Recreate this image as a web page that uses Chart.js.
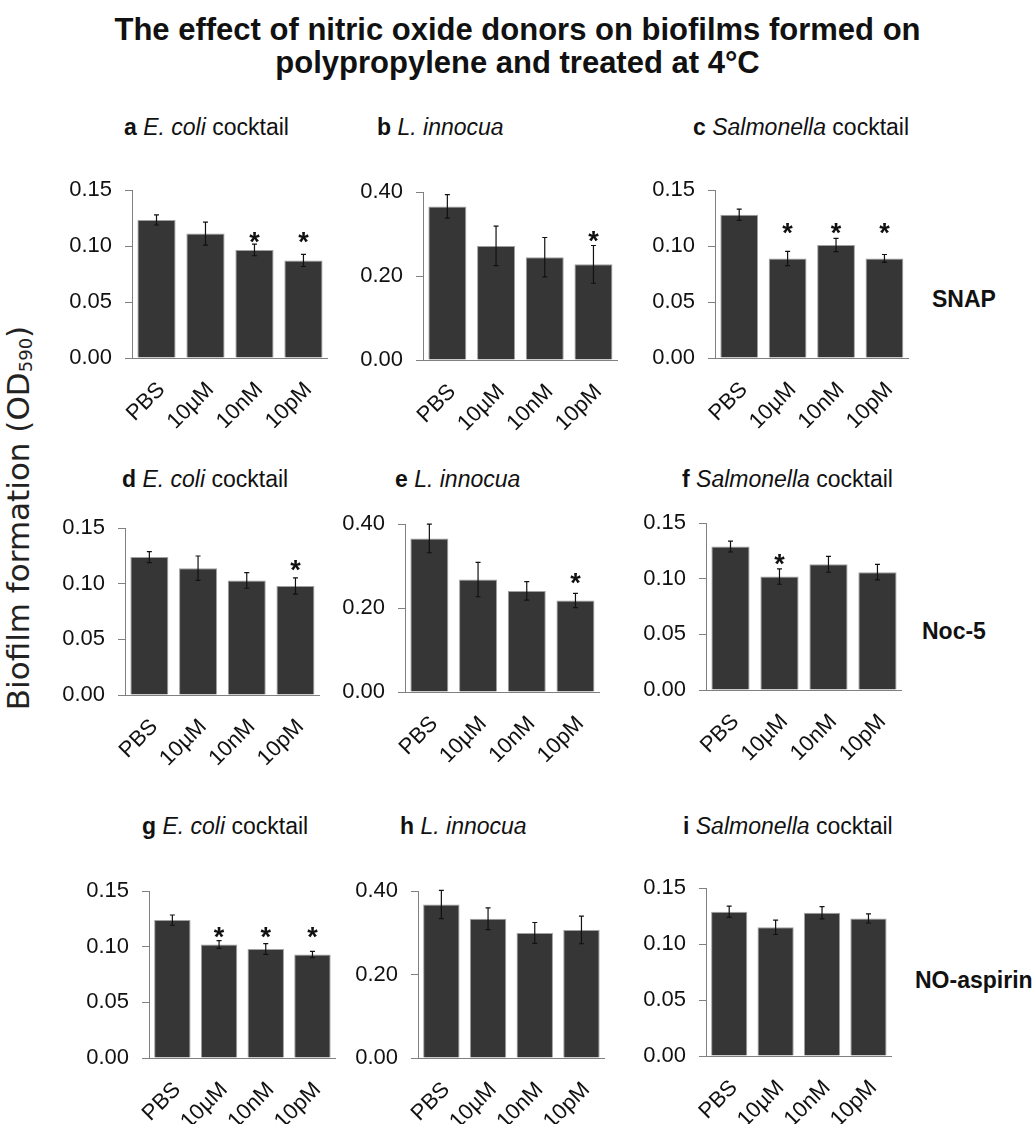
<!DOCTYPE html>
<html>
<head>
<meta charset="utf-8">
<script src="https://cdn.jsdelivr.net/npm/chart.js@4/dist/chart.umd.min.js"></script>
<style>
  body { margin: 0; background: #fff; font-family: 'Liberation Sans', Arial, sans-serif; color: #111; }
  #page { position: relative; width: 1035px; height: 1124px; overflow: hidden; }
  .title { position: absolute; left: 0; width: 1035px; top: 13px; text-align: center; font-weight: bold; font-size: 31px; line-height: 33px; }
  .ptitle { position: absolute; font-size: 23px; line-height: 23px; white-space: nowrap; }
  .side { position: absolute; font-size: 23px; line-height: 24px; font-weight: bold; white-space: nowrap; }
  .ylab { position: absolute; left: 22px; top: 518px; transform: translate(-50%, -50%) rotate(-90deg); font-family: 'DejaVu Sans', sans-serif; font-size: 31px; line-height: 34px; white-space: nowrap; color: #222; }
  .ylab sub { font-size: 18px; vertical-align: -3px; }
  canvas { position: absolute; }
</style>
</head>
<body>
<div id="page">
  <div class="title">The effect of nitric oxide donors on biofilms formed on<br>polypropylene and treated at 4°C</div>
  <div class="ylab">Biofilm formation (OD<sub>590</sub>)</div>
  <div class="side" style="left:932px; top:287px">SNAP</div>
  <div class="side" style="left:922px; top:619px">Noc-5</div>
  <div class="side" style="left:915px; top:968px">NO-aspirin</div>
</div>
<script>
/**
 * Biofilm formation on polypropylene at 4°C, three NO donors x three organisms.
 */
const categories = ['PBS', '10µM', '10nM', '10pM']

// SNAP
const snapEcoli = [0.1234, 0.1112, 0.0966, 0.0872]
const snapEcoliErr = [0.0045, 0.0103, 0.0052, 0.0054]
const snapEcoliSig = [false, false, true, true]
const snapListeria = [0.366, 0.272, 0.245, 0.228]
const snapListeriaErr = [0.028, 0.047, 0.047, 0.045]
const snapListeriaSig = [false, false, false, true]
const snapSalmonella = [0.128, 0.089, 0.101, 0.089]
const snapSalmonellaErr = [0.005, 0.0064, 0.0059, 0.0035]
const snapSalmonellaSig = [false, true, true, true]

// Noc-5
const nocEcoli = [0.124, 0.114, 0.103, 0.098]
const nocEcoliErr = [0.0049, 0.011, 0.007, 0.0073]
const nocEcoliSig = [false, false, false, true]
const nocListeria = [0.366, 0.268, 0.241, 0.218]
const nocListeriaErr = [0.034, 0.041, 0.022, 0.017]
const nocListeriaSig = [false, false, false, true]
const nocSalmonella = [0.129, 0.102, 0.113, 0.106]
const nocSalmonellaErr = [0.0049, 0.0069, 0.0071, 0.0069]
const nocSalmonellaSig = [false, true, false, false]

// NO-aspirin
const aspEcoli = [0.124, 0.102, 0.098, 0.093]
const aspEcoliErr = [0.0046, 0.0035, 0.0049, 0.0028]
const aspEcoliSig = [false, true, true, true]
const aspListeria = [0.368, 0.334, 0.300, 0.307]
const aspListeriaErr = [0.034, 0.026, 0.025, 0.033]
const aspListeriaSig = [false, false, false, false]
const aspSalmonella = [0.129, 0.115, 0.128, 0.123]
const aspSalmonellaErr = [0.005, 0.0064, 0.0055, 0.0041]
const aspSalmonellaSig = [false, false, false, false]

// y-axis ranges and the height the asterisks sit at, per panel
const smallAxisMax = 0.15
const smallAxisStep = 0.05
const largeAxisMax = 0.40
const largeAxisStep = 0.20
const starLevels = [0.110, 0.300, 0.118, 0.119, 0.277, 0.120, 0.115, 0, 0]

const panels = [
  { letter: 'a', org: 'E. coli', rest: ' cocktail', values: snapEcoli, err: snapEcoliErr, sig: snapEcoliSig, max: smallAxisMax, step: smallAxisStep },
  { letter: 'b', org: 'L. innocua', rest: '', values: snapListeria, err: snapListeriaErr, sig: snapListeriaSig, max: largeAxisMax, step: largeAxisStep },
  { letter: 'c', org: 'Salmonella', rest: ' cocktail', values: snapSalmonella, err: snapSalmonellaErr, sig: snapSalmonellaSig, max: smallAxisMax, step: smallAxisStep },
  { letter: 'd', org: 'E. coli', rest: ' cocktail', values: nocEcoli, err: nocEcoliErr, sig: nocEcoliSig, max: smallAxisMax, step: smallAxisStep },
  { letter: 'e', org: 'L. innocua', rest: '', values: nocListeria, err: nocListeriaErr, sig: nocListeriaSig, max: largeAxisMax, step: largeAxisStep },
  { letter: 'f', org: 'Salmonella', rest: ' cocktail', values: nocSalmonella, err: nocSalmonellaErr, sig: nocSalmonellaSig, max: smallAxisMax, step: smallAxisStep },
  { letter: 'g', org: 'E. coli', rest: ' cocktail', values: aspEcoli, err: aspEcoliErr, sig: aspEcoliSig, max: smallAxisMax, step: smallAxisStep },
  { letter: 'h', org: 'L. innocua', rest: '', values: aspListeria, err: aspListeriaErr, sig: aspListeriaSig, max: largeAxisMax, step: largeAxisStep },
  { letter: 'i', org: 'Salmonella', rest: ' cocktail', values: aspSalmonella, err: aspSalmonellaErr, sig: aspSalmonellaSig, max: smallAxisMax, step: smallAxisStep }
]

// plot-area boxes (left, top, right, bottom) and title anchors, in page pixels
const plotBoxes = [
  [132, 179, 328, 358], [423, 181, 618, 360], [715, 179, 909, 358],
  [125, 517, 320, 695], [405, 513, 600, 692], [706, 512, 902, 690],
  [149, 880, 337, 1058], [418, 880, 606, 1058], [706, 877, 893, 1056]
]
const titleAnchors = [
  [124, 128], [377, 128], [693, 128],
  [122, 480], [395, 480], [682, 480],
  [142, 827], [400, 827], [683, 827]
]

const Y_AXIS_W = 80
const X_AXIS_H = 80
const PAD_TOP = 15
const PAD_RIGHT = 15

const errorBarPlugin = (panel, starLevel) => ({
  id: 'errorBars',
  afterDatasetsDraw (chart) {
    const { ctx, scales: { y } } = chart
    const meta = chart.getDatasetMeta(0)
    ctx.save()
    ctx.strokeStyle = '#111'
    ctx.lineWidth = 1.2
    meta.data.forEach((bar, i) => {
      const top = y.getPixelForValue(panel.values[i] + panel.err[i])
      const bottom = y.getPixelForValue(panel.values[i] - panel.err[i])
      ctx.beginPath()
      ctx.moveTo(bar.x, top)
      ctx.lineTo(bar.x, bottom)
      ctx.moveTo(bar.x - 2.5, top)
      ctx.lineTo(bar.x + 2.5, top)
      ctx.moveTo(bar.x - 2.5, bottom)
      ctx.lineTo(bar.x + 2.5, bottom)
      ctx.stroke()
      if (panel.sig[i]) {
        ctx.fillStyle = '#111'
        ctx.font = 'bold 27px "Liberation Sans", Arial'
        ctx.textAlign = 'center'
        ctx.textBaseline = 'alphabetic'
        ctx.fillText('*', bar.x, y.getPixelForValue(starLevel) + 16)
      }
    })
    ctx.restore()
  }
})

const page = document.getElementById('page')

panels.forEach((panel, idx) => {
  const [l, t, r, b] = plotBoxes[idx]
  const [tx, ty] = titleAnchors[idx]

  const title = document.createElement('div')
  title.className = 'ptitle'
  title.style.left = tx + 'px'
  title.style.top = (ty - 12) + 'px'
  title.innerHTML = `<b>${panel.letter}</b> <i>${panel.org}</i>${panel.rest}`
  page.appendChild(title)

  const canvas = document.createElement('canvas')
  const w = (r - l) + Y_AXIS_W + PAD_RIGHT
  const h = (b - t) + PAD_TOP + X_AXIS_H
  canvas.width = w
  canvas.height = h
  canvas.style.left = (l - Y_AXIS_W) + 'px'
  canvas.style.top = (t - PAD_TOP) + 'px'
  canvas.style.width = w + 'px'
  canvas.style.height = h + 'px'
  page.appendChild(canvas)

  new Chart(canvas, {
    type: 'bar',
    data: {
      labels: categories,
      datasets: [{
        data: panel.values,
        backgroundColor: '#363636',
        borderColor: '#a0a0a0',
        borderWidth: 1,
        barPercentage: 0.78,
        categoryPercentage: 1
      }]
    },
    options: {
      responsive: false,
      animation: false,
      devicePixelRatio: 1,
      layout: { padding: { top: PAD_TOP, right: PAD_RIGHT, left: 0, bottom: 0 } },
      plugins: { legend: { display: false }, tooltip: { enabled: false } },
      scales: {
        x: {
          afterFit: (s) => { s.height = X_AXIS_H },
          grid: { display: false, drawTicks: false },
          border: { display: true, color: '#808080', width: 1 },
          ticks: {
            color: '#111',
            font: { family: '"Liberation Sans", Arial', size: 22 },
            minRotation: 45,
            maxRotation: 45,
            autoSkip: false,
            padding: 19,
            labelOffset: 5
          }
        },
        y: {
          min: 0,
          max: panel.max,
          afterFit: (s) => { s.width = Y_AXIS_W },
          grid: { drawOnChartArea: false, drawTicks: true, tickLength: 7, color: '#808080' },
          border: { display: true, color: '#808080', width: 1 },
          ticks: {
            stepSize: panel.step,
            color: '#111',
            padding: 13,
            font: { family: '"Liberation Sans", Arial', size: 22 },
            callback: (v) => v.toFixed(2)
          }
        }
      }
    },
    plugins: [errorBarPlugin(panel, starLevels[idx])]
  })
})
</script>
</body>
</html>
